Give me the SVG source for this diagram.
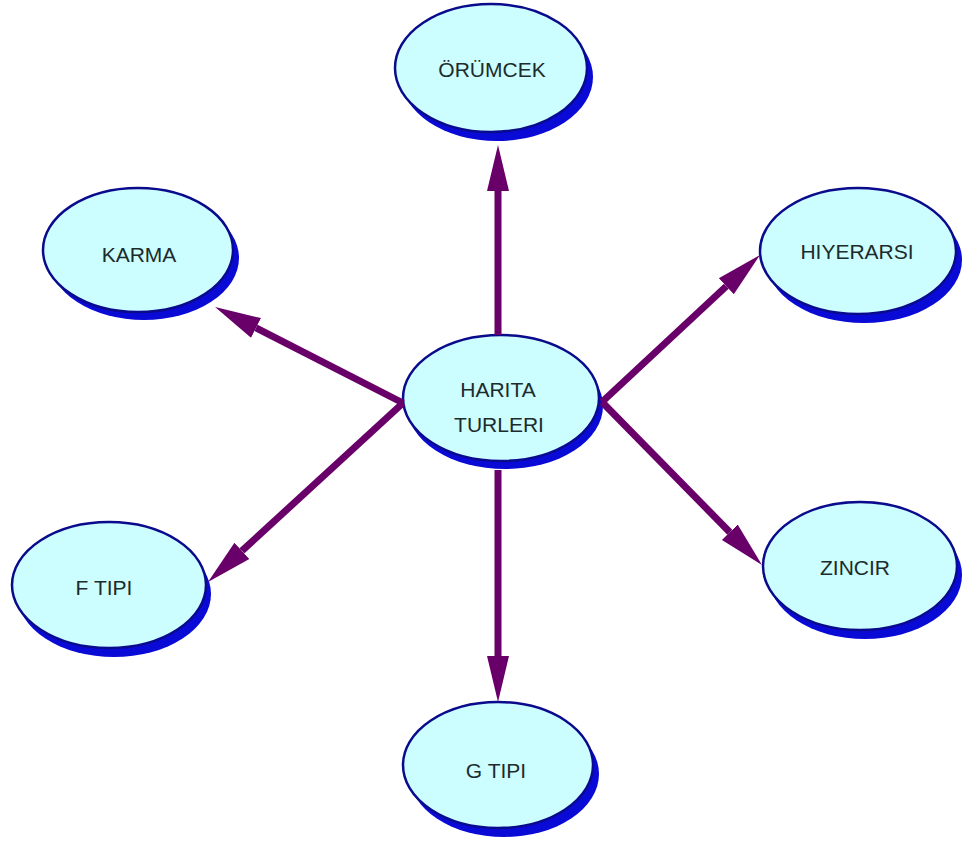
<svg xmlns="http://www.w3.org/2000/svg" width="970" height="846" viewBox="0 0 970 846">
  <style>
    .shadow { fill: #0a0ad6; }
    .body { fill: #ccfdff; stroke: #0a0a8c; stroke-width: 2.5; }
    .label { font-family: "Liberation Sans", Arial, sans-serif; font-size: 21px; fill: #1c2b2b; text-anchor: middle; }
    .edge { stroke: #690069; stroke-width: 7; fill: none; marker-end: url(#head); }
  </style>
  <defs>
    <marker id="head" markerUnits="userSpaceOnUse" markerWidth="48" markerHeight="24" refX="0" refY="12" orient="auto" viewBox="0 0 48 24">
      <path d="M0,1 L46,12 L0,23 Z" fill="#690069"/>
    </marker>
  </defs>
  <rect width="970" height="846" fill="#ffffff"/>

  <!-- nodes: blue drop ellipse behind a light cyan face -->
  <g id="node-orumcek">
    <ellipse class="shadow" cx="497" cy="77" rx="96" ry="64"/>
    <ellipse class="body" cx="491" cy="68" rx="96" ry="64"/>
    <text class="label" x="492" y="77">ÖRÜMCEK</text>
  </g>
  <g id="node-karma">
    <ellipse class="shadow" cx="144" cy="258" rx="95" ry="62"/>
    <ellipse class="body" cx="138" cy="250" rx="95" ry="62"/>
    <text class="label" x="139" y="262">KARMA</text>
  </g>
  <g id="node-hiyerarsi">
    <ellipse class="shadow" cx="864" cy="260" rx="98" ry="63"/>
    <ellipse class="body" cx="858" cy="251" rx="98" ry="63"/>
    <text class="label" x="857" y="259">HIYERARSI</text>
  </g>
  <g id="node-harita">
    <ellipse class="shadow" cx="505" cy="406" rx="98" ry="63"/>
    <ellipse class="body" cx="501" cy="398" rx="98" ry="63"/>
    <text class="label" x="498" y="397">HARITA</text>
    <text class="label" x="499" y="432">TURLERI</text>
  </g>
  <g id="node-ftipi">
    <ellipse class="shadow" cx="114" cy="594" rx="97" ry="63"/>
    <ellipse class="body" cx="109" cy="585" rx="97" ry="63"/>
    <text class="label" x="104" y="595">F TIPI</text>
  </g>
  <g id="node-zincir">
    <ellipse class="shadow" cx="865" cy="575" rx="97" ry="64"/>
    <ellipse class="body" cx="860" cy="566" rx="97" ry="64"/>
    <text class="label" x="855" y="575">ZINCIR</text>
  </g>
  <g id="node-gtipi">
    <ellipse class="shadow" cx="504" cy="774" rx="95" ry="63"/>
    <ellipse class="body" cx="498" cy="765" rx="95" ry="63"/>
    <text class="label" x="496" y="778">G TIPI</text>
  </g>

  <!-- connectors from the centre node outwards -->
  <g id="connectors">
    <line class="edge" x1="498" y1="335" x2="498" y2="191"/>
    <line class="edge" x1="498" y1="470" x2="498" y2="656"/>
    <line class="edge" x1="602" y1="402" x2="726.3" y2="286.3"/>
    <line class="edge" x1="602" y1="402" x2="729.8" y2="532.2"/>
    <line class="edge" x1="403" y1="403" x2="256" y2="327.9"/>
    <line class="edge" x1="403" y1="403" x2="241.9" y2="550.9"/>
  </g>
</svg>
